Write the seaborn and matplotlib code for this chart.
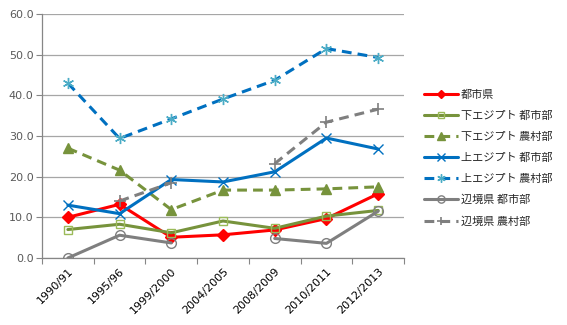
import numpy as np
import pandas as pd
import seaborn as sns
import matplotlib
matplotlib.use("Agg")
import matplotlib.pyplot as plt
from matplotlib.lines import Line2D

# Survey years
years = ["1990/91", "1995/96", "1999/2000", "2004/2005", "2008/2009", "2010/2011", "2012/2013"]

# Poverty rates (%) by region
urban_gov = [10.0, 13.2, 5.1, 5.7, 6.9, 9.7, 15.8]
lower_urban = [7.0, 8.3, 6.2, 9.1, 7.3, 10.3, 11.7]
lower_rural = [27.0, 21.6, 11.9, 16.7, 16.7, 17.0, 17.5]
upper_urban = [13.0, 10.9, 19.3, 18.7, 21.2, 29.5, 26.8]
upper_rural = [43.0, 29.4, 34.2, 39.1, 43.7, 51.5, 49.3]
frontier_urban = [0.0, 5.6, 3.7, np.nan, 4.8, 3.6, 11.5]
frontier_rural = [np.nan, 14.0, 18.5, np.nan, 23.2, 33.4, 36.6]

series_names = ["都市県", "下エジプト 都市部", "下エジプト 農村部", "上エジプト 都市部",
                "上エジプト 農村部", "辺境県 都市部", "辺境県 農村部"]
series_values = [urban_gov, lower_urban, lower_rural, upper_urban,
                 upper_rural, frontier_urban, frontier_rural]

red, green, blue, gray = "#FF0000", "#77933C", "#0070C0", "#7F7F7F"
styles = [
    dict(color=red, ls="-", marker="D", ms=6, mfc=red, mec=red, mew=1.0),
    dict(color=green, ls="-", marker="s", ms=6, mfc="none", mec="#9BBB59", mew=1.0),
    dict(color=green, ls=(0, (3.2, 2.0)), marker="^", ms=7, mfc="#77933C", mec="#77933C", mew=1.0),
    dict(color=blue, ls="-", marker="x", ms=7, mfc=blue, mec=blue, mew=1.0),
    dict(color=blue, ls=(0, (3.2, 2.0)), marker=(6, 2, 0), ms=8, mfc="#4BACC6", mec="#4BACC6", mew=1.0),
    dict(color=gray, ls="-", marker="o", ms=7, mfc="none", mec=gray, mew=1.0),
    dict(color=gray, ls=(0, (3.2, 2.0)), marker="+", ms=8, mfc=gray, mec=gray, mew=1.2),
]

sns.set_theme(style="white")
plt.rcParams["font.family"] = ["Noto Sans CJK JP", "DejaVu Sans"]

fig = plt.figure(figsize=(5.67, 3.25), dpi=100)
ax = fig.add_axes([42 / 567, 1 - 258 / 325, (404 - 42) / 567, (258 - 14) / 325])

xpos = np.arange(len(years))
for vals, st in zip(series_values, styles):
    df = pd.DataFrame({"x": xpos, "y": vals})
    # split at missing values so gaps stay open
    grp = df["y"].isna().cumsum()
    for _, seg in df[df["y"].notna()].groupby(grp[df["y"].notna()]):
        sns.lineplot(data=seg, x="x", y="y", ax=ax, color=st["color"], linestyle=st["ls"],
                     linewidth=2.2, marker=st["marker"], markersize=st["ms"],
                     markerfacecolor=st["mfc"], markeredgecolor=st["mec"],
                     markeredgewidth=st["mew"], legend=False, zorder=3)

ax.set_xlim(-0.5, len(years) - 0.5)
ax.set_ylim(0, 60)
ax.set_yticks(np.arange(0, 61, 10))
ax.set_yticklabels([f"{v:.1f}" for v in range(0, 61, 10)], fontsize=8, color="#595959",
                   family=["DejaVu Sans"])
ax.set_xticks(xpos)
ax.set_xticklabels(years, rotation=45, ha="right", rotation_mode="anchor", fontsize=8,
                   color="#000000", family=["DejaVu Sans"])
ax.set_xticks(np.arange(-0.5, len(years), 1.0), minor=True)
ax.tick_params(axis="x", which="major", length=0, pad=6)
ax.tick_params(axis="x", which="minor", length=4, color="#868686", width=0.8, direction="out", bottom=True)
ax.tick_params(axis="y", which="major", length=4, color="#868686", width=0.8, direction="out", left=True, pad=2)
ax.set_xlabel("")
ax.set_ylabel("")
ax.grid(axis="y", color="#A6A6A6", linewidth=0.9)
ax.grid(axis="x", visible=False)
for s in ["top", "right"]:
    ax.spines[s].set_visible(False)
for s in ["left", "bottom"]:
    ax.spines[s].set_color("#868686")
    ax.spines[s].set_linewidth(0.9)

handles = [Line2D([0], [0], color=st["color"], linestyle=st["ls"], linewidth=2.2,
                  marker=st["marker"], markersize=st["ms"] * 0.75,
                  markerfacecolor=st["mfc"], markeredgecolor=st["mec"],
                  markeredgewidth=st["mew"]) for st in styles]
fig.legend(handles, series_names, loc="upper left", bbox_to_anchor=(420 / 567, 1 - 85 / 325),
           frameon=False, fontsize=8, handlelength=3.0, handletextpad=0.3,
           labelspacing=0.98, borderaxespad=0)

fig.savefig("out.png", dpi=100)
